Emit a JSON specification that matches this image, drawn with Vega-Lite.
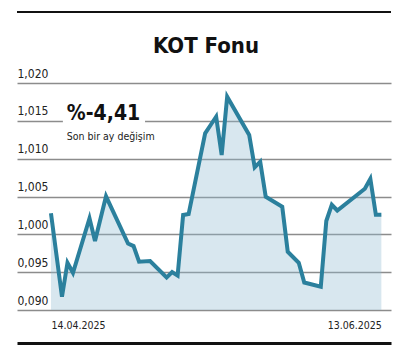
{
  "$schema": "https://vega.github.io/schema/vega-lite/v6.json",
  "width": 374,
  "height": 331,
  "autosize": {"type": "none"},
  "padding": {"left": 17, "top": 12, "right": 12, "bottom": 9},
  "background": "white",
  "config": {"view": {"stroke": null}, "font": "DejaVu Sans Condensed, Roboto"},
  "title": {"text": "KOT Fonu", "font": "DejaVu Sans Condensed, Roboto", "fontSize": 22, "fontWeight": "bold", "color": "#111111", "anchor": "middle", "baseline": "alphabetic", "offset": -64, "dx": 2},
  "datasets": {
    "fund": [
      {"date": "2025-04-14", "value": 1.00278},
      {"date": "2025-04-16", "value": 0.99175},
      {"date": "2025-04-17", "value": 0.99625},
      {"date": "2025-04-18", "value": 0.99492},
      {"date": "2025-04-21", "value": 1.00212},
      {"date": "2025-04-22", "value": 0.99911},
      {"date": "2025-04-24", "value": 1.00502},
      {"date": "2025-04-28", "value": 0.99878},
      {"date": "2025-04-29", "value": 0.99845},
      {"date": "2025-04-30", "value": 0.99638},
      {"date": "2025-05-02", "value": 0.99647},
      {"date": "2025-05-05", "value": 0.99429},
      {"date": "2025-05-06", "value": 0.99502},
      {"date": "2025-05-07", "value": 0.99455},
      {"date": "2025-05-08", "value": 1.00255},
      {"date": "2025-05-09", "value": 1.00268},
      {"date": "2025-05-12", "value": 1.01335},
      {"date": "2025-05-13", "value": 1.01445},
      {"date": "2025-05-14", "value": 1.01555},
      {"date": "2025-05-15", "value": 1.01048},
      {"date": "2025-05-16", "value": 1.01819},
      {"date": "2025-05-20", "value": 1.01313},
      {"date": "2025-05-21", "value": 1.00886},
      {"date": "2025-05-22", "value": 1.0096},
      {"date": "2025-05-23", "value": 1.00497},
      {"date": "2025-05-26", "value": 1.00365},
      {"date": "2025-05-27", "value": 0.9977},
      {"date": "2025-05-29", "value": 0.99625},
      {"date": "2025-05-30", "value": 0.99363},
      {"date": "2025-06-02", "value": 0.99307},
      {"date": "2025-06-03", "value": 1.00176},
      {"date": "2025-06-04", "value": 1.00391},
      {"date": "2025-06-05", "value": 1.00315},
      {"date": "2025-06-10", "value": 1.00602},
      {"date": "2025-06-11", "value": 1.00734},
      {"date": "2025-06-12", "value": 1.00259},
      {"date": "2025-06-13", "value": 1.00259}
    ]
  },
  "layer": [
    {
      "data": {"name": "fund"},
      "mark": {"type": "area", "color": "rgb(144,186,209)", "opacity": 0.35},
      "encoding": {
        "x": {
          "field": "date", "type": "temporal",
          "scale": {"type": "utc", "domain": [
            {"year": 2025, "month": 4, "date": 7, "hours": 20, "utc": true},
            {"year": 2025, "month": 6, "date": 14, "hours": 18, "utc": true}
          ]},
          "axis": {
            "orient": "bottom", "title": null, "grid": false, "ticks": false,
            "values": [
              {"year": 2025, "month": 4, "date": 14, "utc": true},
              {"year": 2025, "month": 6, "date": 13, "utc": true}
            ],
            "format": "%d.%m.%Y",
            "domainColor": "#111111", "domainWidth": 3,
            "labelPadding": -18, "labelBaseline": "middle",
            "labelAlign": {"expr": "datum.value < 1747000000000 ? 'left' : 'right'"},
            "labelFontSize": 10.5, "labelColor": "#222222", "labelFlush": false, "labelOverlap": false
          }
        },
        "y": {
          "field": "value", "type": "quantitative",
          "scale": {"domain": [0.9856388, 1.0293833], "zero": false, "nice": false},
          "axis": {
            "title": null, "values": [0.99, 0.995, 1.0, 1.005, 1.01, 1.015, 1.02],
            "grid": true, "gridColor": "#8c8c8c", "gridWidth": 1.5,
            "domain": false, "ticks": false, "labelOverlap": false,
            "labelAlign": "left", "labelPadding": 0, "labelBaseline": "alphabetic", "labelOffset": -6,
            "labelFontSize": 12, "labelColor": "#222222",
            "labelExpr": "abs(datum.value - 0.995) < 0.0001 ? '0,095' : abs(datum.value - 0.99) < 0.0001 ? '0,090' : replace(format(datum.value, '.3f'), '.', ',')"
          }
        },
        "y2": {"datum": 0.99}
      }
    },
    {
      "data": {"name": "fund"},
      "mark": {"type": "line", "color": "#2b809d", "strokeWidth": 4, "strokeJoin": "miter"},
      "encoding": {
        "x": {"field": "date", "type": "temporal"},
        "y": {"field": "value", "type": "quantitative"}
      }
    },
    {
      "data": {"values": [{}]},
      "mark": {"type": "rule", "color": "#111111", "strokeWidth": 2},
      "encoding": {
        "y": {"datum": 1.0293833, "type": "quantitative"}
      }
    },
    {
      "data": {"values": [{}]},
      "mark": {"type": "rect", "color": "white"},
      "encoding": {
        "x": {"datum": {"year": 2025, "month": 4, "date": 16, "hours": 4, "utc": true}, "type": "temporal"},
        "x2": {"datum": {"year": 2025, "month": 5, "date": 1, "hours": 2, "utc": true}},
        "y": {"datum": 1.0143, "type": "quantitative"},
        "y2": {"datum": 1.0158}
      }
    },
    {
      "data": {"values": [{}]},
      "mark": {"type": "text", "text": "%-4,41", "font": "DejaVu Sans Condensed, Roboto", "fontSize": 21, "fontWeight": "bold", "color": "#111111", "align": "left", "baseline": "alphabetic"},
      "encoding": {
        "x": {"datum": {"year": 2025, "month": 4, "date": 16, "hours": 21, "utc": true}, "type": "temporal"},
        "y": {"datum": 1.0151, "type": "quantitative"}
      }
    },
    {
      "data": {"values": [{}]},
      "mark": {"type": "text", "text": "Son bir ay değişim", "font": "DejaVu Sans Condensed, Roboto", "fontSize": 10.5, "color": "#222222", "align": "left", "baseline": "alphabetic"},
      "encoding": {
        "x": {"datum": {"year": 2025, "month": 4, "date": 16, "hours": 21, "utc": true}, "type": "temporal"},
        "y": {"datum": 1.01247, "type": "quantitative"}
      }
    }
  ]
}
